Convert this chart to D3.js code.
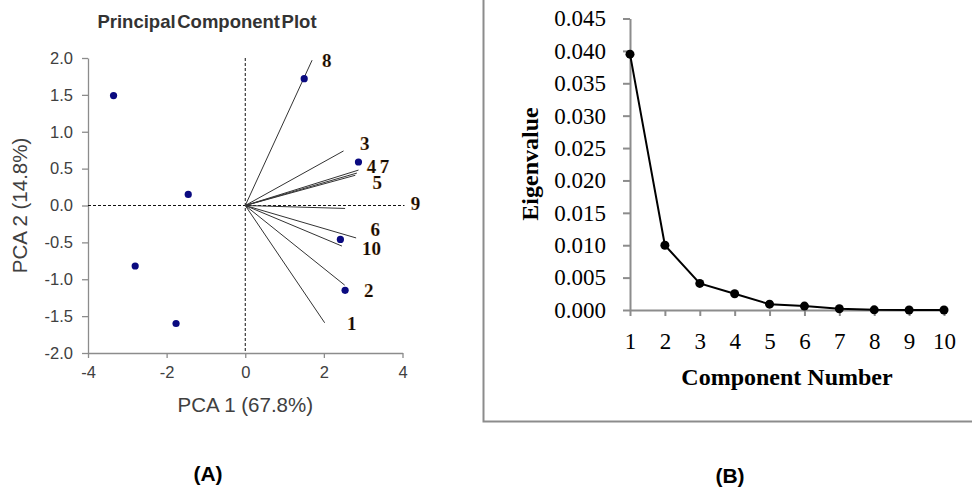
<!DOCTYPE html>
<html>
<head>
<meta charset="utf-8">
<script src="https://cdn.jsdelivr.net/npm/d3@7"></script>
<style>
  html, body { margin: 0; padding: 0; background: #fff; }
  svg { display: block; }
</style>
</head>
<body>
<svg id="chart" width="972" height="489"></svg>
<script>
// ---------- Data: (A) Principal Component Plot ----------
const scoresPC1 = [-3.35, -1.45, -2.80, -1.76, 1.50, 2.88, 2.42, 2.54];
const scoresPC2 = [1.49, 0.15, -0.82, -1.60, 1.72, 0.59, -0.46, -1.15];
const loadingNames = ["1", "2", "3", "4", "5", "6", "7", "8", "9", "10"];
const loadingPC1 = [2.02, 2.53, 2.50, 2.88, 2.80, 2.82, 2.84, 1.70, 2.54, 2.46];
const loadingPC2 = [-1.59, -1.08, 0.74, 0.48, 0.41, -0.44, 0.44, 1.97, -0.04, -0.55];
const labelPC1 = [2.71, 3.14, 3.04, 3.21, 3.36, 3.31, 3.54, 2.07, 4.33, 3.21];
const labelPC2 = [-1.60, -1.15, 0.84, 0.53, 0.31, -0.33, 0.53, 1.96, 0.03, -0.59];
const pcaTicksX = [-4, -2, 0, 2, 4];
const pcaTicksY = [-2.0, -1.5, -1.0, -0.5, 0.0, 0.5, 1.0, 1.5, 2.0];

// ---------- Data: (B) Scree plot ----------
const components = [1, 2, 3, 4, 5, 6, 7, 8, 9, 10];
const eigenvalues = [0.0395, 0.0100, 0.0041, 0.0025, 0.0009, 0.0006, 0.0002, 0.00002, 0.0, 0.0];
const eigenTicks = [0, 0.005, 0.010, 0.015, 0.020, 0.025, 0.030, 0.035, 0.040, 0.045];

const svg = d3.select("#chart");
const hyphen = (f) => (d) => f(d).replace("\u2212", "-");

// ================= Panel A =================
const xA = d3.scaleLinear().domain([-4, 4]).range([88, 402.5]);
const yA = d3.scaleLinear().domain([-2, 2]).range([353, 58]);
const gA = svg.append("g");

gA.append("text")
  .attr("x", 207).attr("y", 28)
  .attr("text-anchor", "middle")
  .attr("font-family", "Arial, 'Liberation Sans', sans-serif")
  .attr("font-weight", "bold").attr("font-size", 18.5)
  .attr("word-spacing", -3.5)
  .attr("fill", "#333")
  .text("Principal Component Plot");

const axStyle = (g) => {
  g.select(".domain").attr("stroke", "#8c8c8c").attr("stroke-width", 1.3);
  g.selectAll(".tick line").attr("stroke", "#8c8c8c").attr("stroke-width", 1.3);
};

const axAy = gA.append("g").attr("transform", `translate(${xA(-4)},0)`)
  .call(d3.axisLeft(yA).tickValues(pcaTicksY).tickFormat(hyphen(d3.format(".1f"))).tickSize(6).tickSizeOuter(0).tickPadding(9));
axStyle(axAy);
axAy.selectAll("text").attr("font-family", "Arial, 'Liberation Sans', sans-serif").attr("font-size", 16.5).attr("fill", "#404040");

const axAx = gA.append("g").attr("transform", `translate(0,${yA(-2)})`)
  .call(d3.axisBottom(xA).tickValues(pcaTicksX).tickFormat(hyphen(d3.format("d"))).tickSize(5).tickSizeOuter(0).tickPadding(8));
axStyle(axAx);
axAx.selectAll("text").attr("font-family", "Arial, 'Liberation Sans', sans-serif").attr("font-size", 16.5).attr("fill", "#404040");

// dashed zero lines
gA.append("line")
  .attr("x1", xA(0)).attr("x2", xA(0)).attr("y1", yA(2)).attr("y2", yA(-2))
  .attr("stroke", "#111").attr("stroke-width", 1).attr("stroke-dasharray", "3,2");
gA.append("line")
  .attr("x1", xA(-4)).attr("x2", xA(4.05)).attr("y1", yA(0)).attr("y2", yA(0))
  .attr("stroke", "#111").attr("stroke-width", 1).attr("stroke-dasharray", "3,2");

// axis titles
gA.append("text")
  .attr("x", xA(0)).attr("y", 412)
  .attr("text-anchor", "middle")
  .attr("font-family", "Arial, 'Liberation Sans', sans-serif").attr("font-size", 20.5)
  .attr("fill", "#404040")
  .text("PCA 1 (67.8%)");
gA.append("text")
  .attr("transform", `translate(27,${yA(0)}) rotate(-90)`)
  .attr("text-anchor", "middle")
  .attr("font-family", "Arial, 'Liberation Sans', sans-serif").attr("font-size", 20.5)
  .attr("fill", "#404040")
  .text("PCA 2 (14.8%)");

// loading vectors
const loadings = loadingNames.map((n, i) => ({ n, x: loadingPC1[i], y: loadingPC2[i], lx: labelPC1[i], ly: labelPC2[i] }));
gA.append("g").selectAll("line").data(loadings).join("line")
  .attr("x1", xA(0)).attr("y1", yA(0))
  .attr("x2", d => xA(d.x)).attr("y2", d => yA(d.y))
  .attr("stroke", "#333").attr("stroke-width", 1);

// scores
const scores = scoresPC1.map((x, i) => ({ x, y: scoresPC2[i] }));
gA.append("g").selectAll("circle").data(scores).join("circle")
  .attr("cx", d => xA(d.x)).attr("cy", d => yA(d.y)).attr("r", 3.6)
  .attr("fill", "#0a0a80");

// loading labels
gA.append("g").selectAll("text").data(loadings).join("text")
  .attr("x", d => xA(d.lx)).attr("y", d => yA(d.ly))
  .attr("dy", "0.34em")
  .attr("text-anchor", "middle")
  .attr("font-family", "'Liberation Serif', 'Times New Roman', serif")
  .attr("font-weight", "bold").attr("font-size", 19)
  .attr("fill", "#100c06")
  .attr("stroke", "#f0b060").attr("stroke-width", 0.2)
  .text(d => d.n);

// panel letter
svg.append("text")
  .attr("x", 208).attr("y", 481)
  .attr("text-anchor", "middle")
  .attr("font-family", "Arial, 'Liberation Sans', sans-serif")
  .attr("font-weight", "bold").attr("font-size", 21)
  .text("(A)");

// ================= Panel B =================
const gB = svg.append("g");
gB.append("rect")
  .attr("x", 483.5).attr("y", -5).attr("width", 520).attr("height", 426.5)
  .attr("fill", "none").attr("stroke", "#8c8c8c").attr("stroke-width", 2);

const xB = d3.scaleLinear().domain([1, 10]).range([630, 944]);
const yB = d3.scaleLinear().domain([0, 0.045]).range([310, 18.5]);

const axBy = gB.append("g").attr("transform", `translate(${xB(1)},0)`)
  .call(d3.axisLeft(yB).tickValues(eigenTicks).tickFormat(d3.format(".3f")).tickSize(7).tickSizeOuter(0).tickPadding(17));
axBy.select(".domain").attr("stroke", "#8c8c8c").attr("stroke-width", 2);
axBy.selectAll(".tick line").attr("stroke", "#8c8c8c").attr("stroke-width", 2);
axBy.selectAll("text").attr("font-family", "'Liberation Serif', 'Times New Roman', serif").attr("font-size", 23).attr("fill", "#000");

const axBx = gB.append("g").attr("transform", `translate(0,${yB(0)})`)
  .call(d3.axisBottom(xB).tickValues(components).tickFormat(d3.format("d")).tickSize(6).tickSizeOuter(0).tickPadding(17));
axBx.select(".domain").attr("stroke", "#8c8c8c").attr("stroke-width", 2);
axBx.selectAll(".tick line").attr("stroke", "#8c8c8c").attr("stroke-width", 2);
axBx.selectAll("text").attr("font-family", "'Liberation Serif', 'Times New Roman', serif").attr("font-size", 23).attr("fill", "#000");

const eig = components.map((c, i) => ({ c, v: eigenvalues[i] }));
gB.append("path").datum(eig)
  .attr("d", d3.line().x(d => xB(d.c)).y(d => yB(d.v)))
  .attr("fill", "none").attr("stroke", "#000").attr("stroke-width", 2);
gB.append("g").selectAll("circle").data(eig).join("circle")
  .attr("cx", d => xB(d.c)).attr("cy", d => yB(d.v)).attr("r", 4.5)
  .attr("fill", "#000");

gB.append("text")
  .attr("x", 787).attr("y", 385)
  .attr("text-anchor", "middle")
  .attr("font-family", "'Liberation Serif', 'Times New Roman', serif")
  .attr("font-weight", "bold").attr("font-size", 24)
  .text("Component Number");
gB.append("text")
  .attr("transform", `translate(538,164) rotate(-90)`)
  .attr("text-anchor", "middle")
  .attr("font-family", "'Liberation Serif', 'Times New Roman', serif")
  .attr("font-weight", "bold").attr("font-size", 24)
  .text("Eigenvalue");

svg.append("text")
  .attr("x", 730).attr("y", 483)
  .attr("text-anchor", "middle")
  .attr("font-family", "Arial, 'Liberation Sans', sans-serif")
  .attr("font-weight", "bold").attr("font-size", 21)
  .text("(B)");
</script>
</body>
</html>
